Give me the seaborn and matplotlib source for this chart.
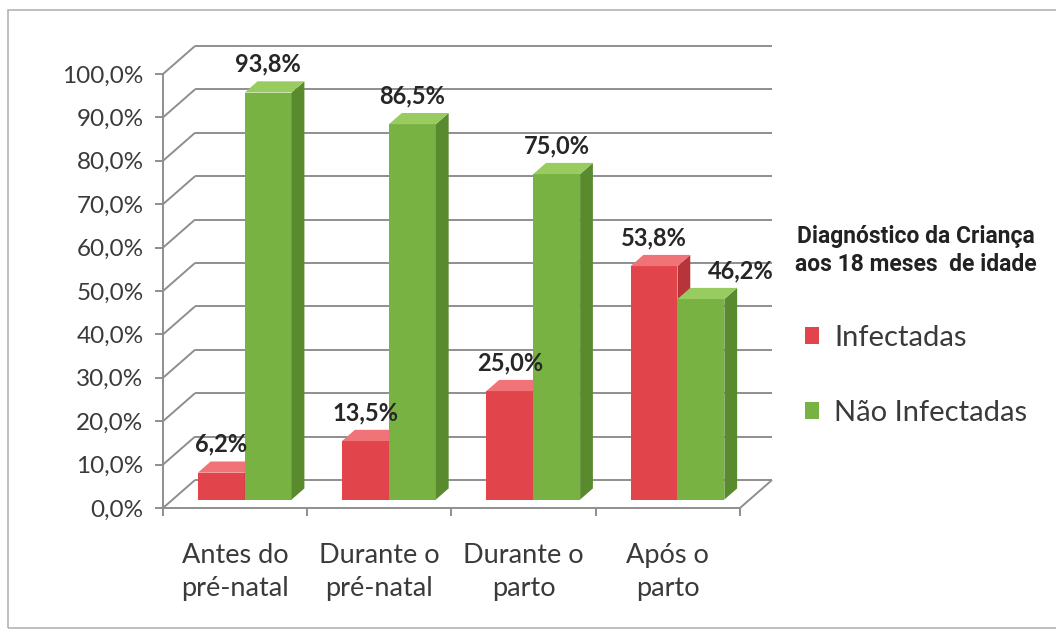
import matplotlib
matplotlib.use("Agg")
import matplotlib.pyplot as plt
import numpy as np
import pandas as pd
import seaborn as sns
from matplotlib.patches import Polygon, Patch, Rectangle
from matplotlib.transforms import ScaledTranslation
from matplotlib.ticker import FuncFormatter

# ---- data -------------------------------------------------------------
momentos = ["Antes do\npré-natal", "Durante o\npré-natal", "Durante o\nparto", "Após o\nparto"]
series = ["Infectadas", "Não Infectadas"]
infectadas = [6.2, 13.5, 25.0, 53.8]
nao_infectadas = [93.8, 86.5, 75.0, 46.2]
y_ticks = [0, 10, 20, 30, 40, 50, 60, 70, 80, 90, 100]
legend_title = "Diagnóstico da Criança\naos 18 meses  de idade"

df = pd.DataFrame({
    "momento": momentos * 2,
    "valor": infectadas + nao_infectadas,
    "diagnostico": [series[0]] * len(momentos) + [series[1]] * len(momentos),
})

# ---- style ------------------------------------------------------------
sns.set_theme(style="white")
plt.rcParams["font.family"] = ["Lato", "DejaVu Sans"]

front_col = {"Infectadas": "#e2444b", "Não Infectadas": "#78b243"}
side_col = {"Infectadas": "#b7343a", "Não Infectadas": "#5a8a2e"}
top_col = {"Infectadas": "#f07377", "Não Infectadas": "#98cb60"}
grid_col = "#8e8e8e"
text_col = "#3a3a3a"

W, H, DPI = 1056, 635, 100
fig = plt.figure(figsize=(W / DPI, H / DPI), dpi=DPI)
fig.patch.set_facecolor("white")

# front plane of the 3-D box (pixels)
X0, X1, Y0, Y1 = 163, 740, 508, 74
ax = fig.add_axes([X0 / W, 1 - Y0 / H, (X1 - X0) / W, (Y0 - Y1) / H])
ax.patch.set_alpha(0)

sns.barplot(data=df, x="momento", y="valor", hue="diagnostico",
            palette=front_col, width=0.65, saturation=1, errorbar=None,
            legend=False, linewidth=0, edgecolor="none", ax=ax)

ax.set_xlim(-0.5, len(momentos) - 0.5)
ax.set_ylim(0, 100)

# depth of the box: 32 px right, 28 px up -> data units
DEPTH_PX = (32, 28)
px_per_x = (X1 - X0) / len(momentos)
px_per_y = (Y0 - Y1) / 100.0
DX = DEPTH_PX[0] / px_per_x
DY = DEPTH_PX[1] / px_per_y
xl, xr = ax.get_xlim()

# back wall, side wall and floor lines
wall_kw = dict(color=grid_col, lw=1.4, clip_on=False, zorder=0.5,
               solid_capstyle="butt")
for v in y_ticks:
    ax.plot([xl + DX, xr + DX], [v + DY, v + DY], **wall_kw)
    ax.plot([xl, xl + DX], [v, v + DY], **wall_kw)
ax.plot([xr, xr + DX], [0, DY], **wall_kw)

# bars sit between 30% and 70% of the box depth
BAR_FRONT, BAR_DEPTH = 0.3, 0.4
shift = ScaledTranslation(BAR_FRONT * DEPTH_PX[0] / DPI,
                          BAR_FRONT * DEPTH_PX[1] / DPI, fig.dpi_scale_trans)
bar_tr = ax.transData + shift
bdx, bdy = BAR_DEPTH * DX, BAR_DEPTH * DY

for level, (name, cont) in enumerate(zip(series, ax.containers)):
    z = 2 + level
    for i, p in enumerate(cont.patches):
        p.set_transform(bar_tr)
        p.set_zorder(z)
        x0, w, h = p.get_x(), p.get_width(), p.get_height()
        x1 = x0 + w
        side = Polygon([(x1, 0), (x1 + bdx, bdy), (x1 + bdx, h + bdy), (x1, h)],
                       closed=True, facecolor=side_col[name], edgecolor="none",
                       transform=bar_tr, zorder=z + 0.1)
        top = Polygon([(x0, h), (x1, h), (x1 + bdx, h + bdy), (x0 + bdx, h + bdy)],
                      closed=True, facecolor=top_col[name], edgecolor="none",
                      transform=bar_tr, zorder=z + 0.2)
        ax.add_patch(side)
        ax.add_patch(top)

        # value label above the bar; nudged right when the neighbour is taller
        dx_pt = 0
        if level == 1 and h < infectadas[i]:
            dx_pt = 29
        ax.annotate(f"{h:.1f}%".replace(".", ","), xy=(x0 + w / 2, h),
                    xycoords=bar_tr, xytext=(dx_pt, 20.5),
                    textcoords="offset points", ha="center", va="center",
                    fontsize=17, fontweight="bold", color="#262626",
                    zorder=10, annotation_clip=False)

# axes
for s in ["top", "right"]:
    ax.spines[s].set_visible(False)
for s in ["left", "bottom"]:
    ax.spines[s].set_color(grid_col)
    ax.spines[s].set_linewidth(1.4)

ax.set_yticks(y_ticks)
ax.yaxis.set_major_formatter(FuncFormatter(lambda v, _: f"{v:.1f}%".replace(".", ",")))
ax.tick_params(axis="y", direction="out", length=6, width=1.4, color=grid_col,
               labelsize=17.5, labelcolor=text_col, pad=8, left=True)

ax.set_xticks(range(len(momentos)), momentos)
ax.set_xticks(np.arange(-0.5, len(momentos)), minor=True)
ax.tick_params(axis="x", which="major", length=0, labelsize=19.5,
               labelcolor=text_col, pad=25)
ax.tick_params(axis="x", which="minor", direction="out", length=6, width=1.4,
               color=grid_col, bottom=True)
for t in ax.get_xticklabels():
    t.set_linespacing(1.42)
ax.set_xlabel("")
ax.set_ylabel("")

# legend
handles = [Patch(facecolor=front_col[s], edgecolor="none") for s in series]
leg = fig.legend(handles, series, loc="upper center",
                 bbox_to_anchor=(916 / W, 1 - 210 / H), frameon=False,
                 title=legend_title,
                 title_fontproperties={"family": "Roboto",
                                       "weight": "bold", "size": 16.5},
                 fontsize=21, handlelength=0.5, handleheight=0.5,
                 handletextpad=0.5, labelspacing=1.68, borderpad=0)
title = leg.get_title()
title.set_multialignment("center")
title.set_linespacing(1.3)
title.set_color("#222222")
for t in leg.get_texts():
    t.set_color(text_col)

# outer chart frame
fig.add_artist(Rectangle((8 / W, 1 - 628 / H), (W + 10 - 8) / W, (628 - 10) / H,
                         transform=fig.transFigure, fill=False,
                         edgecolor="#b4b4b4", lw=1.2, clip_on=False))

fig.savefig("out.png", dpi=DPI, facecolor="white")
